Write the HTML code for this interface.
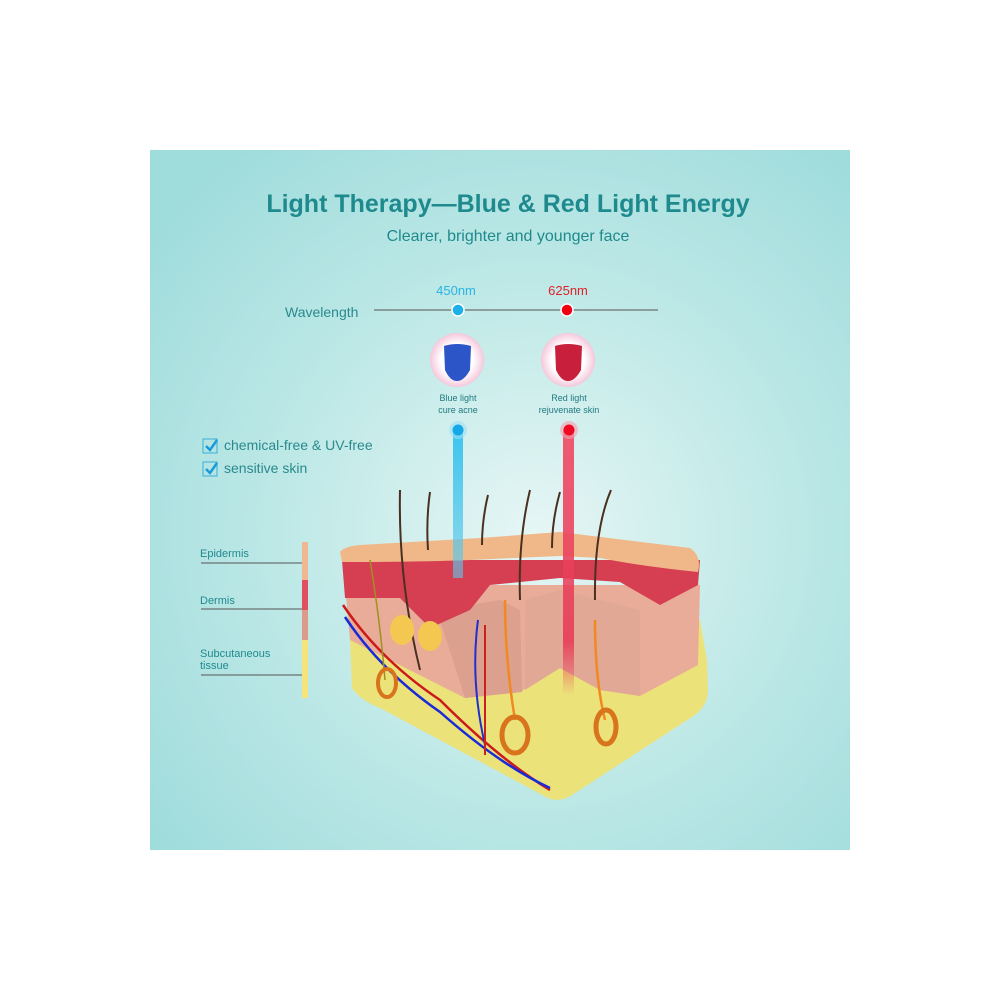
<!DOCTYPE html>
<html><head><meta charset="utf-8"><style>
body{margin:0;width:1000px;height:1000px;background:#fff;font-family:"Liberation Sans",sans-serif;}
</style></head><body>
<svg width="1000" height="1000" viewBox="0 0 1000 1000" xmlns="http://www.w3.org/2000/svg" font-family="Liberation Sans, sans-serif">
<defs>
<radialGradient id="bg" cx="0.55" cy="0.55" r="0.7">
<stop offset="0" stop-color="#e6f6f5"/><stop offset="0.5" stop-color="#bfe9e7"/><stop offset="1" stop-color="#9fdcdc"/></radialGradient>
<linearGradient id="bb" x1="0" y1="0" x2="0" y2="1"><stop offset="0" stop-color="#3cc4ee"/><stop offset="1" stop-color="#5cc8ea" stop-opacity="0.6"/></linearGradient>
<linearGradient id="rb" x1="0" y1="0" x2="0" y2="1"><stop offset="0" stop-color="#ee5a70"/><stop offset="0.8" stop-color="#e83050" stop-opacity="0.8"/><stop offset="1" stop-color="#e83050" stop-opacity="0"/></linearGradient>
<radialGradient id="ring" cx="0.5" cy="0.5" r="0.5"><stop offset="0.6" stop-color="#fff"/><stop offset="1" stop-color="#f4c8dc"/></radialGradient>
</defs>
<rect x="150" y="150" width="700" height="700" fill="url(#bg)"/>
<text x="508" y="212" text-anchor="middle" font-size="25" font-weight="bold" fill="#1f8a8e">Light Therapy—Blue &amp; Red Light Energy</text>
<text x="508" y="241" text-anchor="middle" font-size="16" fill="#1f8a8e">Clearer, brighter and younger face</text>
<text x="285" y="317" font-size="14" fill="#2a8a8e">Wavelength</text>
<line x1="374" y1="310" x2="658" y2="310" stroke="#555" stroke-width="1"/>
<text x="456" y="295" text-anchor="middle" font-size="13" fill="#29b5e6">450nm</text>
<text x="568" y="295" text-anchor="middle" font-size="13" fill="#e0202a">625nm</text>
<circle cx="458" cy="310" r="6" fill="#1ab0ea" stroke="#fff" stroke-width="1.5"/>
<circle cx="567" cy="310" r="6" fill="#f00010" stroke="#fff" stroke-width="1.5"/>
<circle cx="457" cy="360" r="27" fill="url(#ring)"/>
<circle cx="568" cy="360" r="27" fill="url(#ring)"/>
<path d="M444 346 Q457 342 471 346 L470 370 Q464 381 457 381 Q450 381 445 370 Z" fill="#2c55c8"/>
<path d="M555 346 Q568 342 582 346 L581 370 Q575 381 568 381 Q561 381 556 370 Z" fill="#c8203c"/>
<text x="458" y="401" text-anchor="middle" font-size="9" fill="#1f7a80">Blue light</text>
<text x="458" y="413" text-anchor="middle" font-size="9" fill="#1f7a80">cure acne</text>
<text x="569" y="401" text-anchor="middle" font-size="9" fill="#1f7a80">Red light</text>
<text x="569" y="413" text-anchor="middle" font-size="9" fill="#1f7a80">rejuvenate skin</text>
<rect x="203" y="439" width="14" height="14" fill="none" stroke="#3ab0d8" stroke-width="1"/>
<path d="M206 446 l4 4 l7 -10" stroke="#1a9ad8" stroke-width="2.5" fill="none"/>
<text x="224" y="450" font-size="14" fill="#2a8a8e">chemical-free &amp; UV-free</text>
<rect x="203" y="462" width="14" height="14" fill="none" stroke="#3ab0d8" stroke-width="1"/>
<path d="M206 469 l4 4 l7 -10" stroke="#1a9ad8" stroke-width="2.5" fill="none"/>
<text x="224" y="473" font-size="14" fill="#2a8a8e">sensitive skin</text>
<text x="200" y="557" font-size="11" fill="#1f8a8e">Epidermis</text>
<line x1="201" y1="563" x2="303" y2="563" stroke="#555"/>
<text x="200" y="604" font-size="11" fill="#1f8a8e">Dermis</text>
<line x1="201" y1="609" x2="303" y2="609" stroke="#555"/>
<text x="200" y="657" font-size="11" fill="#1f8a8e">Subcutaneous</text>
<text x="200" y="669" font-size="11" fill="#1f8a8e">tissue</text>
<line x1="201" y1="675" x2="303" y2="675" stroke="#555"/>
<rect x="302" y="542" width="6" height="58" fill="#f0b890"/>
<rect x="302" y="580" width="6" height="30" fill="#e05060"/>
<rect x="302" y="610" width="6" height="30" fill="#dc9a88"/>
<rect x="302" y="640" width="6" height="58" fill="#f4e47a"/>
<!-- skin block -->
<path d="M350 640 L352 688 Q360 700 380 708 L548 798 Q560 803 572 795 L695 715 Q708 705 708 690 L707 660 L700 620 L400 620 Z" fill="#ece27a"/>
<path d="M345 585 L350 640 L465 698 L520 692 L560 668 L600 690 L640 696 L698 665 L700 585 Z" fill="#e8ac98"/>
<path d="M440 620 L470 605 L500 600 L520 610 L522 692 L465 698 Z" fill="#dba08e"/>
<path d="M525 600 L560 590 L600 600 L640 610 L640 696 L600 690 L560 668 L525 690 Z" fill="#e2a896"/>
<path d="M342 560 L345 598 L400 598 L430 628 L470 610 L490 585 L560 578 L620 582 L660 605 L698 585 L700 560 Z" fill="#d63e52"/>
<path d="M340 552 Q345 546 360 545 L480 538 L560 532 L690 548 Q702 556 698 572 Q640 566 600 558 L560 556 L470 560 Q420 562 342 562 Z" fill="#f0b888"/>
<rect x="453" y="430" width="10" height="148" fill="url(#bb)"/>
<rect x="563" y="430" width="11" height="265" fill="url(#rb)"/>
<circle cx="458" cy="430" r="9" fill="#9fe0f4" opacity="0.6"/>
<circle cx="458" cy="430" r="5.5" fill="#14a8e8"/>
<circle cx="569" cy="430" r="9" fill="#f2a0b0" opacity="0.6"/>
<circle cx="569" cy="430" r="5.5" fill="#ee0a20"/>
<g stroke="#4a3020" stroke-width="2" fill="none">
<path d="M400 490 Q398 580 420 670"/>
<path d="M430 492 Q426 520 428 550"/>
<path d="M488 495 Q482 520 482 545"/>
<path d="M530 490 Q518 540 520 600"/>
<path d="M560 492 Q552 520 552 548"/>
<path d="M611 490 Q594 530 595 600"/>
</g>
<ellipse cx="402" cy="630" rx="12" ry="15" fill="#f4c850"/>
<ellipse cx="430" cy="636" rx="12" ry="15" fill="#f4c850"/>
<path d="M343 605 Q380 660 440 700 Q500 760 550 790" stroke="#cc1a1a" stroke-width="2.5" fill="none"/>
<path d="M345 617 Q380 670 440 712 Q500 765 550 788" stroke="#1a2ad8" stroke-width="2.5" fill="none"/>
<path d="M478 620 Q470 680 485 745" stroke="#2030d0" stroke-width="2" fill="none"/>
<path d="M485 625 Q485 690 485 755" stroke="#cc2020" stroke-width="2" fill="none"/>
<path d="M505 600 Q505 660 515 720" stroke="#f08a20" stroke-width="2.5" fill="none"/>
<path d="M595 620 Q595 680 605 720" stroke="#f08a20" stroke-width="2.5" fill="none"/>
<path d="M370 560 Q380 620 385 680" stroke="#a09020" stroke-width="1.5" fill="none"/>
<ellipse cx="387" cy="683" rx="9" ry="14" fill="none" stroke="#d8741c" stroke-width="4"/>
<ellipse cx="515" cy="735" rx="13" ry="18" fill="none" stroke="#d8741c" stroke-width="5"/>
<ellipse cx="606" cy="727" rx="10" ry="17" fill="none" stroke="#d8741c" stroke-width="5"/>
</svg>
</body></html>
